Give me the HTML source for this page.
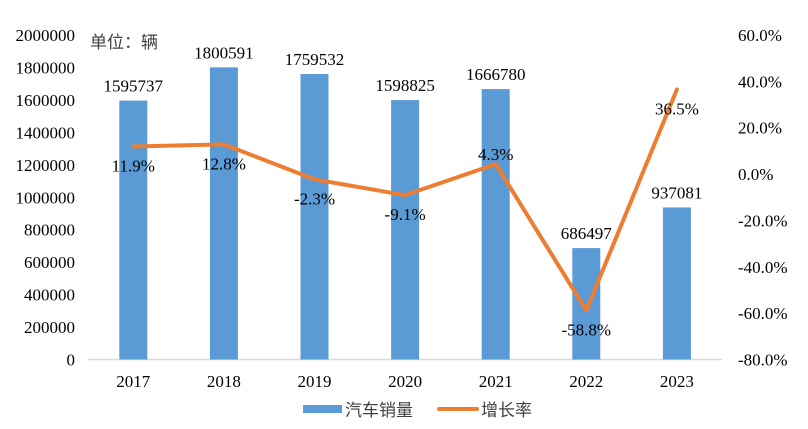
<!DOCTYPE html>
<html><head><meta charset="utf-8"><style>
body{margin:0;background:#fff}
svg text{font-family:"Liberation Serif","Noto Serif CJK SC",serif;font-size:17px;fill:#000}
.cjk{font-family:"Liberation Sans","Noto Sans CJK SC",sans-serif;fill:#404040}
</style></head><body>
<svg id="chart" width="808" height="424">
<line x1="88" y1="359.5" x2="722" y2="359.5" stroke="#d9d9d9" stroke-width="1.5"/>
<text x="90" y="48" class="cjk" font-size="17">单位：辆</text>
<g>
<rect x="303" y="405" width="39" height="8" fill="#5b9bd5"/>
<text x="345" y="416" class="cjk">汽车销量</text>
<line x1="439" y1="409" x2="477" y2="409" stroke="#ed7d31" stroke-width="4" stroke-linecap="round"/>
<text x="481" y="416" class="cjk">增长率</text>
</g>
</svg>
<script>
const categories=["2017","2018","2019","2020","2021","2022","2023"];
const sales=[1595737,1800591,1759532,1598825,1666780,686497,937081];
const growth=[11.9,12.8,-2.3,-9.1,4.3,-58.8,36.5];
const leftTicks=[0,200000,400000,600000,800000,1000000,1200000,1400000,1600000,1800000,2000000];
const rightTicks=[60,40,20,0,-20,-40,-60,-80];
const growthLabelDy=[25,25,25,25,-4,25,25];
const svg=document.getElementById('chart');
const NS='http://www.w3.org/2000/svg';
const x0=88,band=90.6,yTop=35,yBot=359.5;
const xc=i=>x0+band*(i+0.5);
const yL=v=>yBot-(v/2000000)*(yBot-yTop);
const yR=v=>yTop+(60-v)/140*(yBot-yTop);
function mk(t,a){const e=document.createElementNS(NS,t);for(const k in a)e.setAttribute(k,a[k]);svg.appendChild(e);return e;}
leftTicks.forEach(v=>{const t=mk('text',{x:75,y:yL(v)+6,'text-anchor':'end'});t.textContent=v;

});
rightTicks.forEach(v=>{const t=mk('text',{x:738,y:yR(v)+6});t.textContent=v.toFixed(1)+'%';

});
categories.forEach((c,i)=>{
const t=mk('text',{x:xc(i),y:387,'text-anchor':'middle'});t.textContent=c;


const b=mk('rect',{x:xc(i)-14,y:yL(sales[i]),width:28,height:yBot-yL(sales[i]),fill:'#5b9bd5'});


const l=mk('text',{x:xc(i),y:yL(sales[i])-9,'text-anchor':'middle'});l.textContent=sales[i];


});
const pts=growth.map((g,i)=>xc(i)+','+yR(g)).join(' ');
const pl=mk('polyline',{points:pts,fill:'none',stroke:'#ed7d31','stroke-width':4,'stroke-linejoin':'round','stroke-linecap':'round'});


growth.forEach((g,i)=>{const t=mk('text',{x:xc(i),y:yR(g)+growthLabelDy[i],'text-anchor':'middle'});t.textContent=g.toFixed(1)+'%';

});
</script>
</body></html>
